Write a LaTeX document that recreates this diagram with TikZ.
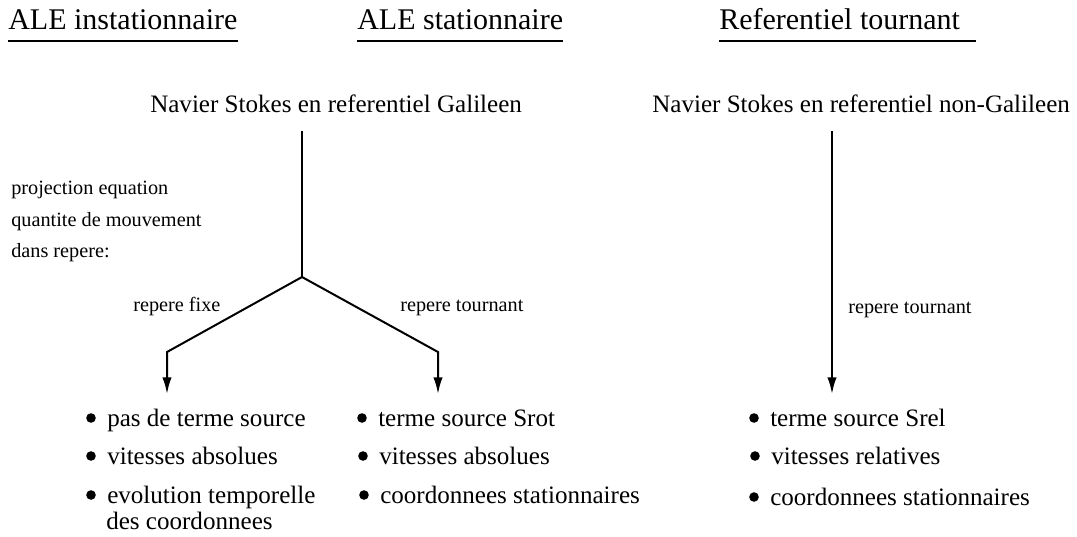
\documentclass[tikz,border=0pt]{standalone}
\usepackage{fontspec}
\setmainfont{Liberation Serif}
\usetikzlibrary{arrows.meta}
\begin{document}
\begin{tikzpicture}[x=0.75pt,y=-0.75pt,
  title/.style={anchor=base west,inner sep=0pt,font=\fontsize{22.5}{26}\selectfont},
  body/.style={anchor=base west,inner sep=0pt,font=\fontsize{18.8}{19.5}\selectfont},
  small/.style={anchor=base west,inner sep=0pt,font=\fontsize{15.2}{17}\selectfont},
  ul/.style={line width=1.2pt},
  conn/.style={line width=1.5pt},
  bul/.style={fill=black},
  arr/.style={conn,-{Latex[length=12.5pt,width=7pt]}}]
\useasboundingbox (0,0) rectangle (1077,536);
% titles
\node[title] (t1) at (8,29) {ALE instationnaire};
\node[title] (t2) at (357,29) {ALE stationnaire};
\node[title] (t3) at (719,29) {Referentiel tournant};
\draw[ul] ([yshift=-9pt]t1.base west) -- ([yshift=-9pt]t1.base east);
\draw[ul] ([yshift=-9pt]t2.base west) -- ([yshift=-9pt]t2.base east);
\draw[ul] ([yshift=-9pt]t3.base west) -- ([yshift=-9pt,xshift=12pt]t3.base east);
% equations
\node[body] (nsg) at (150,112) {Navier Stokes en referentiel Galileen};
\node[body] (nsng) at (652,112) {Navier Stokes en referentiel non-Galileen};
% left notes
\node[small] (p1) at (11,194) {projection equation};
\node[small] (p2) at (11,226) {quantite de mouvement};
\node[small] (p3) at (11,257) {dans repere:};
% connector points
\coordinate (top) at (302,131);
\coordinate (J) at (302,277);
\coordinate (cL) at (167,352);
\coordinate (cR) at (438,352);
\coordinate (aL) at (167,394);
\coordinate (aR) at (438,394);
\coordinate (topN) at (832,131);
\coordinate (aN) at (832,394);
\draw[conn] (top) -- (J);
\draw[arr] (J) -- (cL) -- (aL);
\draw[arr] (J) -- (cR) -- (aR);
\draw[arr] (topN) -- (aN);
% branch labels
\node[small] (rf) at (133,311) {repere fixe};
\node[small] (rt) at (400,311) {repere tournant};
\node[small] (rtn) at (848,313) {repere tournant};
% column 1
\node[body] (a1) at (107,426) {pas de terme source};
\node[body] (a2) at (107,464) {vitesses absolues};
\node[body] (a3) at (107,503) {evolution temporelle};
\node[body] (a4) at (106,529) {des coordonnees};
% column 2
\node[body] (b1) at (378,426) {terme source Srot};
\node[body] (b2) at (379,464) {vitesses absolues};
\node[body] (b3) at (380,503) {coordonnees stationnaires};
% column 3
\node[body] (c1) at (770,426) {terme source Srel};
\node[body] (c2) at (771,464) {vitesses relatives};
\node[body] (c3) at (770,505) {coordonnees stationnaires};
% bullets
\foreach \n in {a1,a2,a3,b1,b2,b3,c1,c2,c3}
  \fill[bul] ([shift={(-16,-8)}]\n.base west) circle[radius=3.6pt];
\end{tikzpicture}
\end{document}
